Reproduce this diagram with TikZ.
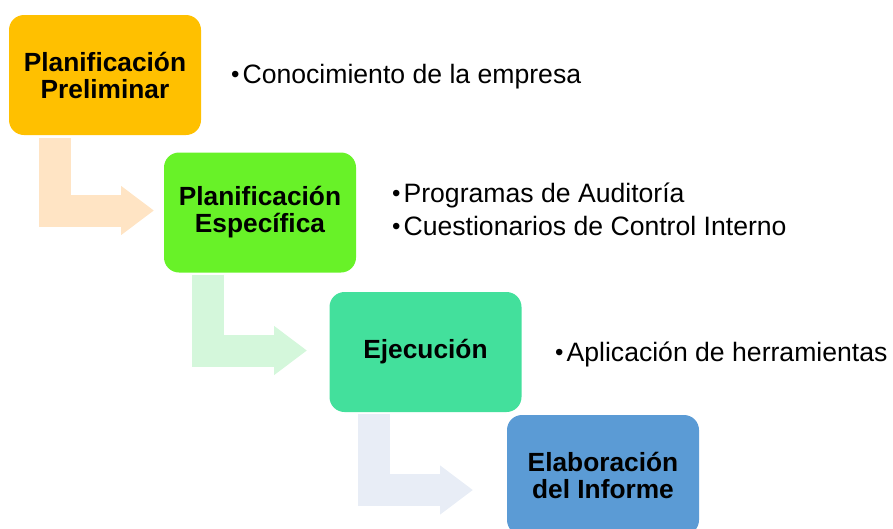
\documentclass[tikz,border=0pt]{standalone}
\usepackage{fontspec}
\setmainfont{Liberation Sans}
\usetikzlibrary{arrows.meta,calc}
\definecolor{cOne}{HTML}{FFC000}
\definecolor{cTwo}{HTML}{68F228}
\definecolor{cThree}{HTML}{43E09C}
\definecolor{cFour}{HTML}{5B9BD5}
\definecolor{aOne}{HTML}{FFE4C4}
\definecolor{aTwo}{HTML}{D4F7DB}
\definecolor{aThree}{HTML}{E8EDF6}
\newcommand{\mybul}{{\fontsize{24}{24}\selectfont\raisebox{0.5pt}{•}}\kern3pt}
\tikzset{
  stage/.style={rounded corners=15pt, minimum width=192pt, minimum height=120pt,
    inner sep=0pt, align=center, text=black,
    font=\fontsize{26.3}{27}\selectfont\bfseries},
  bullettext/.style={anchor=base west, inner sep=0pt, text=black,
    font=\fontsize{26.6}{27}\selectfont},
  bentarrow/.style={line width=32pt, line join=miter, line cap=butt,
    -{Triangle[length=33pt,width=47pt]}}
}
\begin{document}
\begin{tikzpicture}[x=1pt,y=-1pt]
\useasboundingbox (0,0) rectangle (893,528);
\clip (0,0) rectangle (893,528);
\node[stage, fill=cOne]   (b1) at (105,75)  {Planificación\\Preliminar};
\node[stage, fill=cTwo]   (b2) at (260,212.5) {Planificación\\Específica};
\node[stage, fill=cThree] (b3) at (425.5,352) {Ejecución};
\node[stage, fill=cFour]  (b4) at (603,475) {Elaboración\\del Informe};
\coordinate (t1) at (154,210.5);
\coordinate (t2) at (307,350.5);
\coordinate (t3) at (473,490);
\draw[bentarrow, draw=aOne]   ([shift={(46.5,3)}]b1.south west) |- (t1);
\draw[bentarrow, draw=aTwo]   ([shift={(44.5,2)}]b2.south west) |- (t2);
\draw[bentarrow, draw=aThree] ([shift={(45,2)}]b3.south west) |- (t3);
\node[bullettext] (l1) at (231,83)  {\mybul Conocimiento de la empresa};
\node[bullettext] (l2) at (392,202) {\mybul Programas de Auditoría};
\node[bullettext] (l3) at (392,235) {\mybul Cuestionarios de Control Interno};
\node[bullettext] (l4) at (555,361) {\mybul Aplicación de herramientas};
\end{tikzpicture}
\end{document}
